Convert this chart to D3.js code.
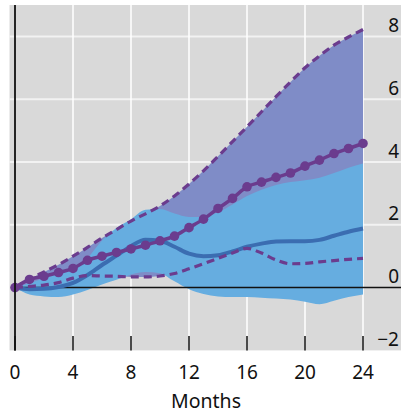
<!DOCTYPE html>
<html><head><meta charset="utf-8">
<script src="https://cdn.jsdelivr.net/npm/d3@7/dist/d3.min.js"></script>
<style>html,body{margin:0;padding:0;background:#fff;}svg{display:block;}</style>
</head><body><svg id="c" width="401" height="416"></svg>
<script>
const months = d3.range(0, 25);
const purpleUpper = [0,0.27,0.5,0.73,1.0,1.28,1.58,1.85,2.12,2.35,2.6,2.92,3.3,3.72,4.18,4.65,5.12,5.6,6.08,6.55,7.0,7.38,7.72,7.98,8.22];
const purpleLower = [0,0.04,0.08,0.16,0.3,0.38,0.37,0.36,0.34,0.34,0.37,0.45,0.6,0.76,0.93,1.1,1.25,1.1,0.88,0.76,0.77,0.82,0.86,0.9,0.93];
const purpleMedian = [0,0.26,0.36,0.48,0.61,0.87,1.0,1.12,1.23,1.35,1.49,1.64,1.91,2.18,2.52,2.84,3.21,3.36,3.51,3.65,3.87,4.06,4.27,4.43,4.59];
const blueUpper = [0,0.14,0.3,0.46,0.65,0.95,1.5,1.9,2.18,2.48,2.5,2.36,2.25,2.25,2.4,2.65,2.92,3.12,3.27,3.36,3.42,3.5,3.65,3.82,3.95];
const blueLower = [0,-0.22,-0.28,-0.3,-0.22,-0.08,0.1,0.25,0.42,0.5,0.46,0.2,-0.05,-0.2,-0.28,-0.3,-0.3,-0.32,-0.35,-0.38,-0.45,-0.53,-0.42,-0.3,-0.22];
const blueMedian = [0,-0.05,-0.04,0.02,0.15,0.4,0.72,1.02,1.32,1.52,1.49,1.3,1.08,1.0,1.03,1.15,1.3,1.4,1.47,1.48,1.48,1.52,1.65,1.78,1.88];
const xTicks = [0,4,8,12,16,20,24];
const yTicks = [-2,0,2,4,6,8];
const xTitle = "Months";

const svg = d3.select("#c");
const x = d3.scaleLinear().domain([0,24]).range([15,363]);
const y = d3.scaleLinear().domain([-2,9]).range([350.4,5]);
const font = "'Noto Sans', 'Open Sans', sans-serif";

// background
svg.append("rect").attr("x",9.5).attr("y",5).attr("width",401-9.5).attr("height",345.4).attr("fill","#d9d9d9");

// gridlines
svg.append("g").selectAll("line").data(yTicks.filter(d=>d>0)).join("line")
  .attr("x1",9.5).attr("x2",401).attr("y1",d=>y(d)).attr("y2",d=>y(d))
  .attr("stroke","#f2f2f2").attr("stroke-width",2);
svg.append("g").selectAll("line").data(xTicks.filter(d=>d>0)).join("line")
  .attr("x1",d=>x(d)).attr("x2",d=>x(d)).attr("y1",5).attr("y2",350.4)
  .attr("stroke","#ffffff").attr("stroke-width",1.5);

const pts = months.map((m,i)=>({m,i}));
const curve = d3.curveMonotoneX;
const area = (lo,hi)=>d3.area().x(d=>x(d.m)).y0(d=>y(lo[d.i])).y1(d=>y(hi[d.i])).curve(curve);
const line = (arr)=>d3.line().x(d=>x(d.m)).y(d=>y(arr[d.i])).curve(curve);

svg.append("path").datum(pts).attr("d",area(purpleLower,purpleUpper)).attr("fill","#7f8cc7");
svg.append("path").datum(pts).attr("d",area(blueLower,blueUpper)).attr("fill","#66ade0");

// zero line
svg.append("line").attr("x1",15).attr("x2",401).attr("y1",y(0)).attr("y2",y(0)).attr("stroke","#111").attr("stroke-width",1.5);

svg.append("path").datum(pts).attr("d",line(blueMedian)).attr("fill","none").attr("stroke","#3b6db1").attr("stroke-width",4);
svg.append("path").datum(pts).attr("d",line(purpleUpper)).attr("fill","none").attr("stroke","#6b3c8e").attr("stroke-width",3.2).attr("stroke-dasharray","8,5");
svg.append("path").datum(pts).attr("d",line(purpleLower)).attr("fill","none").attr("stroke","#6b3c8e").attr("stroke-width",3.2).attr("stroke-dasharray","8,5");
svg.append("path").datum(pts).attr("d",line(purpleMedian)).attr("fill","none").attr("stroke","#6b3c8e").attr("stroke-width",3.5);
svg.append("g").selectAll("circle").data(pts).join("circle")
  .attr("cx",d=>x(d.m)).attr("cy",d=>y(purpleMedian[d.i])).attr("r",4.8).attr("fill","#6b3c8e");

// left axis line
svg.append("line").attr("x1",15).attr("x2",15).attr("y1",5).attr("y2",350.4).attr("stroke","#111").attr("stroke-width",1.8);

// bottom ticks
svg.append("g").selectAll("line").data(xTicks).join("line")
  .attr("x1",d=>x(d)).attr("x2",d=>x(d)).attr("y1",336).attr("y2",350.4)
  .attr("stroke","#111").attr("stroke-width",1.5);

// right labels
svg.append("g").selectAll("text").data(yTicks).join("text")
  .attr("x",399).attr("y",d=>y(d)-4.5).attr("text-anchor","end")
  .attr("font-family",font).attr("font-size",19).attr("fill","#111")
  .text(d=>d<0?"\u2212"+Math.abs(d):String(d));

// bottom labels
svg.append("g").selectAll("text").data(xTicks).join("text")
  .attr("x",d=>x(d)).attr("y",378.5).attr("text-anchor","middle")
  .attr("font-family",font).attr("font-size",19).attr("fill","#111")
  .text(d=>String(d));

svg.append("text").attr("x",206).attr("y",407.5).attr("text-anchor","middle")
  .attr("font-family",font).attr("font-size",19.5).attr("fill","#111").text(xTitle);
</script>
</body></html>
